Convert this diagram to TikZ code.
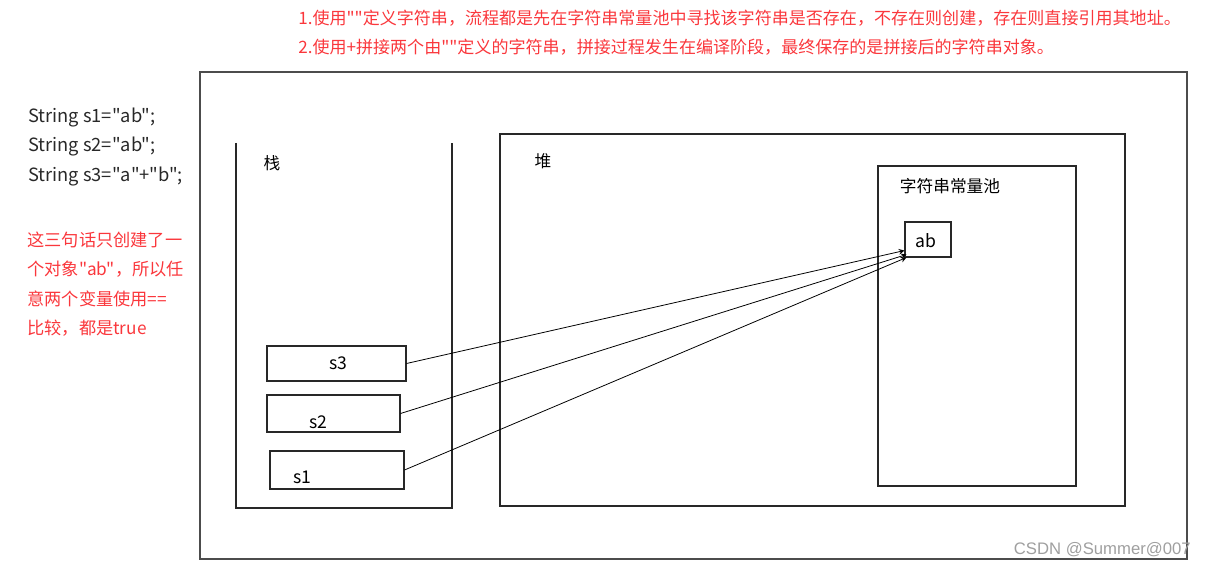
\documentclass[tikz,border=0pt]{standalone}
\usepackage{fontspec}
\setmainfont{Noto Sans CJK SC}[Ligatures=TeXOff]
\newfontfamily\wmfont{Liberation Sans}
\usetikzlibrary{positioning}
\definecolor{notered}{RGB}{250,55,60}
\definecolor{codegray}{RGB}{40,40,40}

\begin{document}
\begin{tikzpicture}[
    x=0.02cm, y=-0.02cm,
    frame/.style={draw=codegray, line width=0.6pt},
    cell/.style={draw=codegray, line width=0.6pt, inner sep=0pt},
    word/.style={inner sep=0pt, font=\fontsize{9.5}{12}\selectfont},
    note/.style={inner sep=0pt, anchor=west, align=left, text=notered},
    ref/.style={->, line width=0.45pt},
    >=stealth
]
\useasboundingbox (0,0) rectangle (1206,567);

% Notizen oben
\node[note, font=\fontsize{9.7}{16.4}\selectfont] (topnote) at (298,33)
  {1.使用""定义字符串，流程都是先在字符串常量池中寻找该字符串是否存在，不存在则创建，存在则直接引用其地址。\\
   2.使用+拼接两个由""定义的字符串，拼接过程发生在编译阶段，最终保存的是拼接后的字符串对象。};

% Code links
\node[word, anchor=west, align=left, text=codegray, font=\fontsize{10.4}{16.7}\selectfont] (code) at (28,147)
  {String s1="ab";\\ String s2="ab";\\ String s3="a"+"b";};
\node[note, font=\fontsize{9.8}{16.7}\selectfont] (leftnote) at (27,284)
  {这三句话只创建了一\\ 个对象"ab"，所以任\\ 意两个变量使用==\\ 比较，都是true};

% Rahmen
\draw[draw=gray!60!black, line width=0.8pt] (200,72) rectangle (1187,559);

% Stack (oben offen)
\draw[frame] (236,143) -- (236,508) -- (452,508) -- (452,143);
\node[word] (stacklabel) at (272,163) {栈};

% Heap
\draw[frame] (500,134) rectangle (1125,506);
\node[word] (heaplabel) at (543,161) {堆};

% Konstantenpool
\draw[frame] (878,166) rectangle (1076,486);
\node[word] (poollabel) at (950,186) {字符串常量池};
\node[cell, minimum width=0.92cm, minimum height=0.70cm] (ab) at (928,239.5) {};
\node[word, font=\fontsize{10}{12}\selectfont] (abtext) at (926,241) {ab};

% Variablen
\node[cell, minimum width=2.78cm, minimum height=0.70cm] (s3) at (336.5,363.5) {};
\node[cell, minimum width=2.66cm, minimum height=0.74cm] (s2) at (333.5,413.5) {};
\node[cell, minimum width=2.68cm, minimum height=0.76cm] (s1) at (337,470) {};
\node[word, font=\fontsize{10}{12}\selectfont] (s3text) at (338,363) {s3};
\node[word, font=\fontsize{10}{12}\selectfont] (s2text) at (318,422) {s2};
\node[word, font=\fontsize{10}{12}\selectfont] (s1text) at (302,477) {s1};

% Referenzen
\draw[ref] (s3.east) -- ([shift={(0,-7)}]ab.south west);
\draw[ref] (s2.east) -- ([shift={(2,-3)}]ab.south west);
\draw[ref] (s1.east) -- ([shift={(2,0)}]ab.south west);

% Wasserzeichen
\node[inner sep=0pt, anchor=east, text=gray!75, font=\wmfont\fontsize{9.5}{11}\selectfont] (mark) at (1191,550) {CSDN @Summer@007};

\end{tikzpicture}
\end{document}
